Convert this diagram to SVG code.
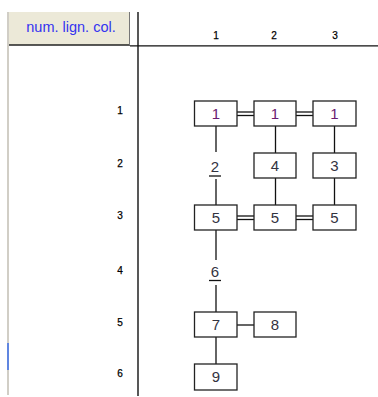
<svg xmlns="http://www.w3.org/2000/svg" width="378" height="397" viewBox="0 0 378 397">
<style>
.box{fill:#fff;stroke:#222;stroke-width:1.3}
.num{font-family:"Liberation Sans",Arial,sans-serif;font-size:15px;text-anchor:middle;fill:#33333f}
.p{fill:#6a1a70}
.lab{font-family:"Liberation Sans",Arial,sans-serif;font-size:10px;text-anchor:middle;fill:#000;stroke:#000;stroke-width:0.25}
.ln{stroke:#111;stroke-width:1.3;fill:none}
</style>
<rect width="378" height="397" fill="#fff"/>
<g id="header">
<line x1="8" y1="12" x2="8" y2="395" stroke="#b8b4a8" stroke-width="1.3"/>
<line x1="8" y1="343" x2="8" y2="370" stroke="#3a6ee8" stroke-width="1.5"/>
<rect x="9" y="12" width="120" height="33" fill="#ECE9D8"/>
<line x1="9" y1="45" x2="130" y2="45" stroke="#222" stroke-width="1.5"/>
<line x1="129.5" y1="12" x2="129.5" y2="45" stroke="#777" stroke-width="1"/>
<text x="71" y="32" font-family="Liberation Sans,Arial,sans-serif" font-size="14.5" fill="#3434f0" text-anchor="middle">num. lign. col.</text>
<line x1="130" y1="45.8" x2="378" y2="45.8" stroke="#111" stroke-width="1.3"/>
<line x1="138" y1="12" x2="138" y2="396" stroke="#111" stroke-width="1.4"/>
<text class="lab" x="216" y="39">1</text>
<text class="lab" x="274" y="39">2</text>
<text class="lab" x="335" y="39">3</text>
<text class="lab" x="120" y="114">1</text>
<text class="lab" x="120" y="167">2</text>
<text class="lab" x="120" y="219">3</text>
<text class="lab" x="120" y="274">4</text>
<text class="lab" x="120" y="326">5</text>
<text class="lab" x="120" y="377">6</text>
</g>
<g id="connectors">
<line class="ln" x1="216" y1="126" x2="216" y2="152"/>
<line class="ln" x1="216" y1="179" x2="216" y2="205"/>
<line class="ln" x1="275.5" y1="126" x2="275.5" y2="153"/>
<line class="ln" x1="275.5" y1="178" x2="275.5" y2="205"/>
<line class="ln" x1="334.5" y1="126" x2="334.5" y2="153"/>
<line class="ln" x1="334.5" y1="178" x2="334.5" y2="205"/>
<line class="ln" x1="237" y1="112" x2="254" y2="112"/>
<line class="ln" x1="237" y1="115.5" x2="254" y2="115.5"/>
<line class="ln" x1="296" y1="112" x2="313" y2="112"/>
<line class="ln" x1="296" y1="115.5" x2="313" y2="115.5"/>
<line class="ln" x1="237" y1="216" x2="254" y2="216"/>
<line class="ln" x1="237" y1="219.5" x2="254" y2="219.5"/>
<line class="ln" x1="296" y1="216" x2="313" y2="216"/>
<line class="ln" x1="296" y1="219.5" x2="313" y2="219.5"/>
<line class="ln" x1="216" y1="230" x2="216" y2="260"/>
<line class="ln" x1="216" y1="285" x2="216" y2="312"/>
<line class="ln" x1="237" y1="325" x2="254" y2="325"/>
<line class="ln" x1="216" y1="337" x2="216" y2="364"/>
</g>
<g id="n1a"><rect class="box" x="194.5" y="101" width="42.5" height="25"/><text class="num p" x="216" y="119">1</text></g>
<g id="n1b"><rect class="box" x="254" y="101" width="42" height="25"/><text class="num p" x="275" y="119">1</text></g>
<g id="n1c"><rect class="box" x="313" y="101" width="43" height="25"/><text class="num p" x="334.5" y="119">1</text></g>
<g id="n2"><text class="num" x="215" y="172">2</text><line x1="209" y1="176" x2="221" y2="176" stroke="#111" stroke-width="1.3"/></g>
<g id="n4"><rect class="box" x="254" y="153" width="42" height="25"/><text class="num" x="275" y="171">4</text></g>
<g id="n3"><rect class="box" x="313" y="153" width="43" height="25"/><text class="num" x="334.5" y="171">3</text></g>
<g id="n5a"><rect class="box" x="194.5" y="205" width="42.5" height="25"/><text class="num" x="216" y="223">5</text></g>
<g id="n5b"><rect class="box" x="254" y="205" width="42" height="25"/><text class="num" x="275" y="223">5</text></g>
<g id="n5c"><rect class="box" x="313" y="205" width="43" height="25"/><text class="num" x="334.5" y="223">5</text></g>
<g id="n6"><text class="num" x="215" y="277">6</text><line x1="209" y1="280.5" x2="221" y2="280.5" stroke="#111" stroke-width="1.3"/></g>
<g id="n7"><rect class="box" x="194.5" y="312" width="42.5" height="25"/><text class="num" x="216" y="330">7</text></g>
<g id="n8"><rect class="box" x="254" y="312" width="42" height="25"/><text class="num" x="275" y="330">8</text></g>
<g id="n9"><rect class="box" x="194.5" y="364" width="42.5" height="26"/><text class="num" x="216" y="382">9</text></g>
</svg>
